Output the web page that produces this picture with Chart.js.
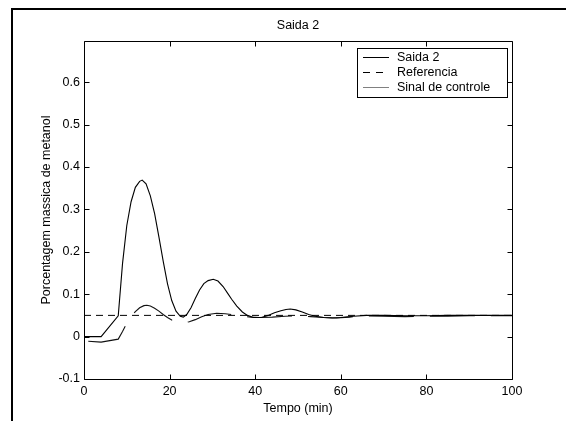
<!DOCTYPE html>
<html><head><meta charset="utf-8">
<script src="https://cdn.jsdelivr.net/npm/chart.js@4/dist/chart.umd.min.js"></script>
<style>html,body{margin:0;padding:0;background:#fff;}#wrap{width:566px;height:421px;position:relative;}</style>
</head><body><div id="wrap"><canvas id="c" width="566" height="421"></canvas></div>
<script>
const chartTitle = 'Saida 2';
const xTitle = 'Tempo (min)';
const yTitle = 'Porcentagem massica de metanol';
const seriesNames = ['Saida 2', 'Referencia', 'Sinal de controle'];
const xTicks = [0, 20, 40, 60, 80, 100];
const yTicks = [-0.1, 0, 0.1, 0.2, 0.3, 0.4, 0.5, 0.6];

const saidaT = [0, 4, 8, 9, 10, 11, 12, 13, 13.6, 14.5, 15.5, 16.5, 17.5, 18.5, 19.5, 20.5, 21.5, 22.5, 23.2, 24, 25, 26, 27, 28, 29, 30.2, 31.3, 32.5, 33.5, 34.5, 35.7, 37, 38.2, 39.6, 41.5, 43, 44.5, 46, 47.2, 48.2, 49.5, 51, 52.5, 54, 56, 58, 60, 63, 66, 70, 75, 80, 85, 90, 95, 100];
const saidaV = [0, 0, 0.049, 0.172, 0.262, 0.318, 0.352, 0.366, 0.369, 0.360, 0.332, 0.290, 0.235, 0.178, 0.125, 0.085, 0.060, 0.048, 0.046, 0.052, 0.068, 0.090, 0.110, 0.125, 0.132, 0.135, 0.131, 0.118, 0.103, 0.088, 0.072, 0.058, 0.050, 0.045, 0.045, 0.050, 0.056, 0.061, 0.064, 0.065, 0.063, 0.058, 0.052, 0.048, 0.045, 0.044, 0.045, 0.048, 0.050, 0.050, 0.049, 0.049, 0.050, 0.050, 0.050, 0.050];

const refT = [0, 100];
const refV = [0.05, 0.05];

const controlT = [1, 4, 8, 9, 10, 11, 12, 13, 14, 14.7, 15.5, 16.5, 17.5, 18.5, 19.5, 20.5, 21.5, 22.5, 23.5, 24.6, 26, 27.5, 29, 31, 33, 35, 37, 39, 41, 44, 47, 50, 53, 56, 59, 62, 66, 70, 75, 80, 85, 90, 95, 100];
const controlV = [-0.011, -0.013, -0.006, 0.012, 0.032, 0.047, 0.059, 0.068, 0.073, 0.074, 0.072, 0.067, 0.060, 0.052, 0.045, 0.039, 0.035, 0.033, 0.033, 0.035, 0.040, 0.047, 0.052, 0.055, 0.054, 0.051, 0.048, 0.046, 0.045, 0.046, 0.048, 0.049, 0.047, 0.045, 0.044, 0.046, 0.049, 0.048, 0.047, 0.048, 0.048, 0.049, 0.049, 0.049];

const FONT = '"Liberation Sans", Arial, sans-serif';
const FS = 12.5;
const pts = (t, v) => t.map((x, i) => ({x: x, y: v[i]}));

const decor = {
  id: 'decor',
  beforeDraw(chart) {
    const ctx = chart.ctx;
    ctx.save();
    ctx.fillStyle = '#fff';
    ctx.fillRect(0, 0, chart.width, chart.height);
    ctx.restore();
  },
  afterDraw(chart) {
    const ctx = chart.ctx;
    const a = chart.chartArea;
    const xs = chart.scales.x, ys = chart.scales.y;
    ctx.save();
    // outer frame (left + top)
    ctx.fillStyle = '#000';
    ctx.fillRect(11, 8, 2, chart.height - 8);
    ctx.fillRect(11, 8, chart.width - 11, 2);
    // plot box
    const L = Math.round(a.left) + 0.5, R = Math.round(a.right) + 0.5;
    const T = Math.round(a.top) + 0.5, B = Math.round(a.bottom) + 0.5;
    ctx.strokeStyle = '#000';
    ctx.lineWidth = 1;
    ctx.beginPath();
    ctx.rect(L, T, R - L, B - T);
    ctx.stroke();
    // inward ticks
    ctx.beginPath();
    xTicks.forEach(v => {
      const px = Math.round(xs.getPixelForValue(v)) + 0.5;
      ctx.moveTo(px, B); ctx.lineTo(px, B - 5);
      ctx.moveTo(px, T); ctx.lineTo(px, T + 5);
    });
    yTicks.forEach(v => {
      const py = Math.round(ys.getPixelForValue(v)) + 0.5;
      ctx.moveTo(L, py); ctx.lineTo(L + 5, py);
      ctx.moveTo(R, py); ctx.lineTo(R - 5, py);
    });
    ctx.stroke();
    // title
    ctx.fillStyle = '#000';
    ctx.font = FS + 'px ' + FONT;
    ctx.textAlign = 'center';
    ctx.textBaseline = 'middle';
    ctx.fillText(chartTitle, (a.left + a.right) / 2, 26);
    // legend
    const lx = 357.5, ly = 48.5, lw = 150, lh = 49;
    ctx.fillStyle = '#fff';
    ctx.fillRect(lx, ly, lw, lh);
    ctx.strokeStyle = '#000';
    ctx.lineWidth = 1;
    ctx.strokeRect(lx, ly, lw, lh);
    const rows = [57, 72, 87];
    const sampleStyles = [
      {c: '#000', d: []},
      {c: '#000', d: [7, 6]},
      {c: '#808080', d: []}
    ];
    rows.forEach((ry, i) => {
      ctx.beginPath();
      ctx.strokeStyle = sampleStyles[i].c;
      ctx.setLineDash(sampleStyles[i].d);
      ctx.moveTo(363, ry + 0.5);
      ctx.lineTo(389, ry + 0.5);
      ctx.stroke();
      ctx.setLineDash([]);
      ctx.fillStyle = '#000';
      ctx.textAlign = 'left';
      ctx.textBaseline = 'middle';
      ctx.fillText(seriesNames[i], 397, ry + 1);
    });
    ctx.restore();
  }
};

new Chart(document.getElementById('c'), {
  type: 'line',
  data: {
    datasets: [
      {label: seriesNames[0], data: pts(saidaT, saidaV), borderColor: '#000', borderWidth: 1.1, pointRadius: 0, tension: 0, fill: false},
      {label: seriesNames[1], data: pts(refT, refV), borderColor: '#000', borderWidth: 1, borderDash: [7, 5], pointRadius: 0, tension: 0, fill: false},
      {label: seriesNames[2], data: pts(controlT, controlV), borderColor: '#111', borderWidth: 1.1, borderDash: [45, 16], pointRadius: 0, tension: 0, fill: false}
    ]
  },
  options: {
    responsive: false,
    animation: false,
    devicePixelRatio: 1,
    layout: {padding: {top: 41, right: 54, bottom: 0, left: 0}},
    plugins: {legend: {display: false}, title: {display: false}, tooltip: {enabled: false}},
    scales: {
      x: {
        type: 'linear', min: 0, max: 100,
        grid: {display: false, drawTicks: false},
        border: {display: false},
        afterBuildTicks: s => { s.ticks = xTicks.map(v => ({value: v})); },
        afterFit: s => { s.height = 42; },
        ticks: {color: '#000', font: {family: FONT, size: FS}, padding: 5, maxRotation: 0, autoSkip: false, callback: v => String(v)},
        title: {display: true, text: xTitle, color: '#000', font: {family: FONT, size: FS}, padding: {top: 0, bottom: 5}}
      },
      y: {
        type: 'linear', min: -0.1, max: 0.697,
        grid: {display: false, drawTicks: false},
        border: {display: false},
        afterBuildTicks: s => { s.ticks = yTicks.map(v => ({value: v})); },
        afterFit: s => { s.width = 84; },
        ticks: {color: '#000', font: {family: FONT, size: FS}, padding: 4, autoSkip: false, callback: v => String(Math.round(v * 10) / 10)},
        title: {display: true, text: yTitle, color: '#000', font: {family: FONT, size: FS}, padding: {top: 39, bottom: 0}}
      }
    }
  },
  plugins: [decor]
});
</script>
</body></html>
